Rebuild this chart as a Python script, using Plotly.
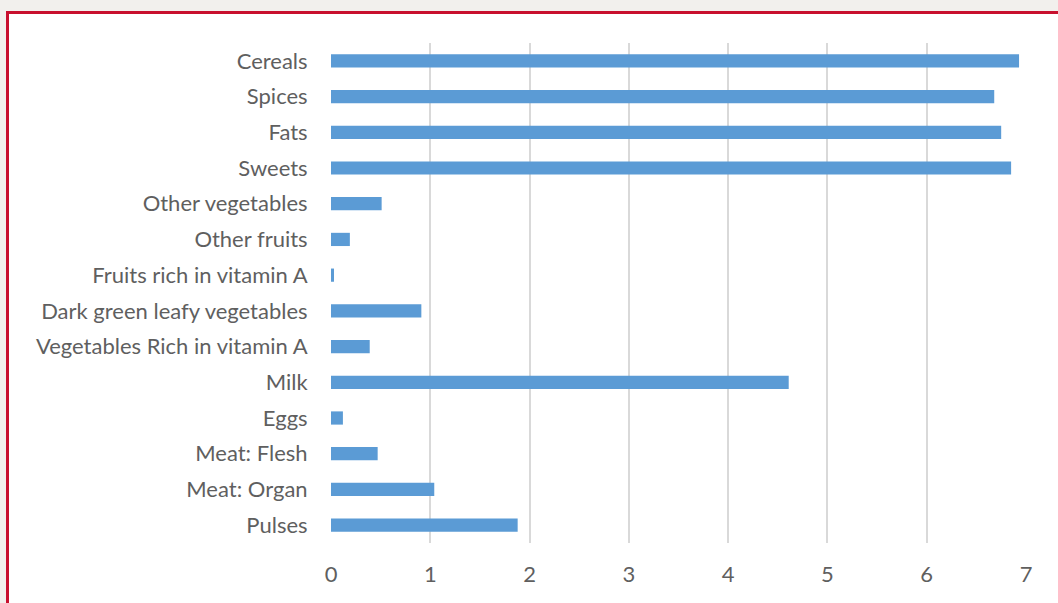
import plotly.graph_objects as go

categories = ["Cereals", "Spices", "Fats", "Sweets", "Other vegetables", "Other fruits",
              "Fruits rich in vitamin A", "Dark green leafy vegetables",
              "Vegetables Rich in vitamin A", "Milk", "Eggs", "Meat: Flesh",
              "Meat: Organ", "Pulses"]
values = [6.93, 6.68, 6.75, 6.85, 0.51, 0.19, 0.03, 0.91, 0.39, 4.61, 0.12, 0.47, 1.04, 1.88]
x_ticks = [0, 1, 2, 3, 4, 5, 6, 7]

W, H = 1058, 603
L, R, T, B = 331, 32, 43, 60
pw, ph = W - L - R, H - T - B

def px_x(p):
    return (p - L) / pw

def px_y(p):
    return (H - B - p) / ph

fig = go.Figure(go.Bar(
    y=categories, x=values, orientation="h",
    marker=dict(color="#5b9bd5", line=dict(width=0)),
))

fig.add_shape(type="rect", xref="paper", yref="paper",
              x0=px_x(7.5), x1=px_x(1080), y0=px_y(640), y1=px_y(12.5),
              fillcolor="white", line=dict(color="#c8102e", width=3), layer="below")

font_family = "Lato, 'Open Sans', sans-serif"
fig.update_layout(
    width=W, height=H,
    margin=dict(l=L, r=R, t=T, b=B, pad=0),
    paper_bgcolor="#f2f0ed",
    plot_bgcolor="rgba(0,0,0,0)",
    bargap=0.63,
    showlegend=False,
    font=dict(family=font_family, size=22, color="#595959"),
    xaxis=dict(range=[0, 7], tickvals=x_ticks, showgrid=True, gridcolor="#d9d9d9",
               gridwidth=2, zeroline=False, showline=False, ticks="outside",
               ticklen=12, tickcolor="rgba(0,0,0,0)",
               tickfont=dict(size=22, color="#5f5f5f")),
    yaxis=dict(categoryorder="array", categoryarray=categories[::-1],
               showgrid=False, zeroline=False, showline=False, ticks="outside",
               ticklen=18, tickcolor="rgba(0,0,0,0)",
               tickfont=dict(size=22, color="#5f5f5f")),
)

fig.write_html("out.html", config={"displayModeBar": False},
               post_script="document.body.style.margin='0';")
